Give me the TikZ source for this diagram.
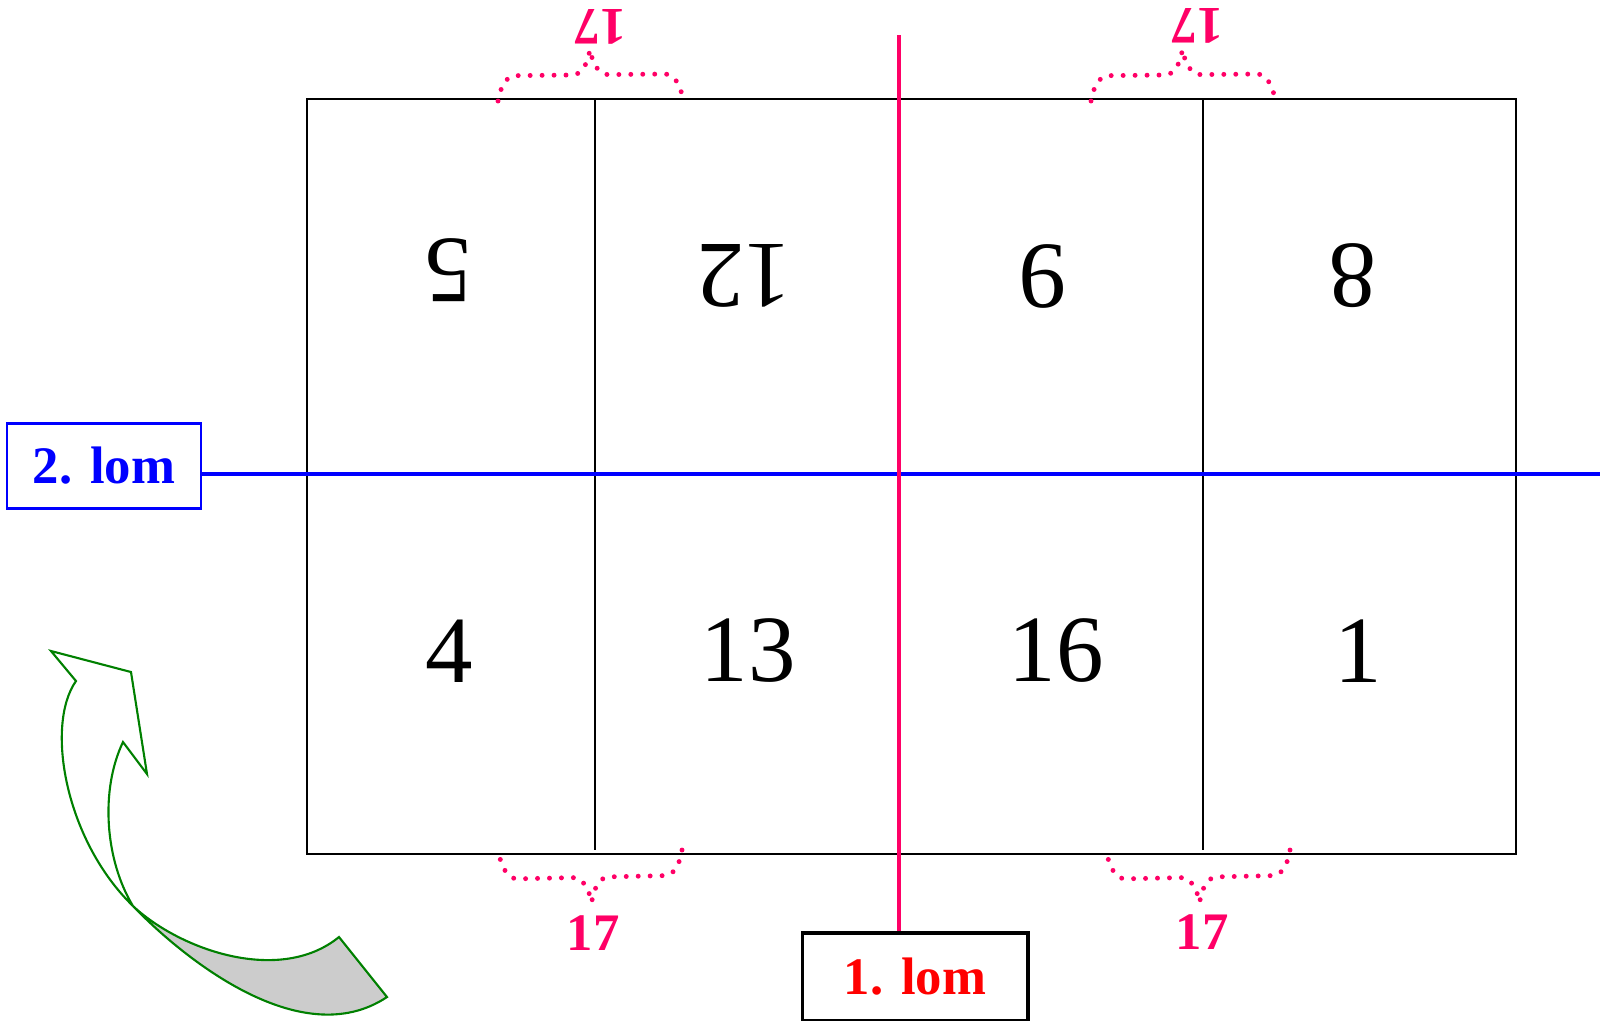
\documentclass[tikz,border=0pt]{standalone}
\usepackage{fontspec}
\setmainfont{Liberation Serif}
\usepackage{xcolor}
\usepackage{tikz}
\usetikzlibrary{decorations.pathreplacing}
\definecolor{foldpink}{HTML}{FF0066}
\definecolor{arrowgreen}{HTML}{008000}

\begin{document}
\begin{tikzpicture}[x=0.01cm, y=-0.01cm,
  pagenum/.style={font=\fontsize{27}{30}\selectfont, inner sep=0pt},
  upside/.style={pagenum, rotate=180},
  lombox/.style={draw, font=\fontsize{15}{18}\selectfont\bfseries, inner sep=0pt},
  widthlbl/.style={text=foldpink, font=\fontsize{15}{18}\selectfont\bfseries, inner sep=0pt},
  foldbrace/.style={draw=foldpink, decorate, decoration={brace, amplitude=0.18cm, transform={yscale=2.8}}, line width=1.4pt, line cap=round, dash pattern=on 0pt off 3.4pt},
  foldline/.style={line width=1.1pt}]
  \useasboundingbox (0,0) rectangle (1600,1020);
  \clip (0,0) rectangle (1600,1020);
  \draw[line width=0.6pt] (307,99) rectangle (1516,854);
  \draw[line width=0.6pt] (595,99) -- (595,850) (1203,99) -- (1203,850);
  \node[upside] (p5) at (449,270) {5};
  \node[upside] (p12) at (744,276) {12};
  \node[upside] (p9) at (1043,276) {9};
  \node[upside] (p8) at (1353,276) {8};
  \node[pagenum] (p4) at (449,651) {4};
  \node[pagenum] (p13) at (748,651) {13};
  \node[pagenum] (p16) at (1056,651) {16};
  \node[pagenum] (p1) at (1358,651) {1};
  \draw[foldbrace] (498,101) -- (683,99);
  \draw[foldbrace] (1091,101) -- (1275,99);
  \draw[foldbrace] (682,850) -- (499,854);
  \draw[foldbrace] (1290,850) -- (1107,854);
  \node[widthlbl, rotate=180] (w1) at (600,27) {17};
  \node[widthlbl, rotate=180] (w2) at (1197,26) {17};
  \node[widthlbl] (w3) at (593,933) {17};
  \node[widthlbl] (w4) at (1202,932) {17};
  \node[lombox, draw=blue, text=blue, line width=0.6pt, minimum width=1.93cm, minimum height=0.85cm] (lom2) at (104,466) {2. lom};
  \node[lombox, draw=black, text=red, line width=1.1pt, minimum width=2.25cm, minimum height=0.88cm] (lom1) at (915,977) {1. lom};
  \coordinate (cutH) at (1600,474);
  \coordinate (cutV) at (899,35);
  \draw[blue, line width=1pt] (cutH -| lom2.east) -- (cutH);
  \draw[foldpink, foldline] (cutV) -- (cutV |- lom1.north);
  \draw[arrowgreen, line width=0.6pt, fill=gray!40] (133,906) .. controls (180,950) and (280,985) .. (339,937) -- (387,997)
    .. controls (300,1055) and (180,955) .. (133,906) -- cycle;
  \draw[arrowgreen, line width=0.6pt] (133,906) .. controls (65,840) and (45,725) .. (76,681) -- (51,651) -- (131,672) -- (147,774) -- (123,742)
    .. controls (100,790) and (105,860) .. (133,906);
\end{tikzpicture}
\end{document}
